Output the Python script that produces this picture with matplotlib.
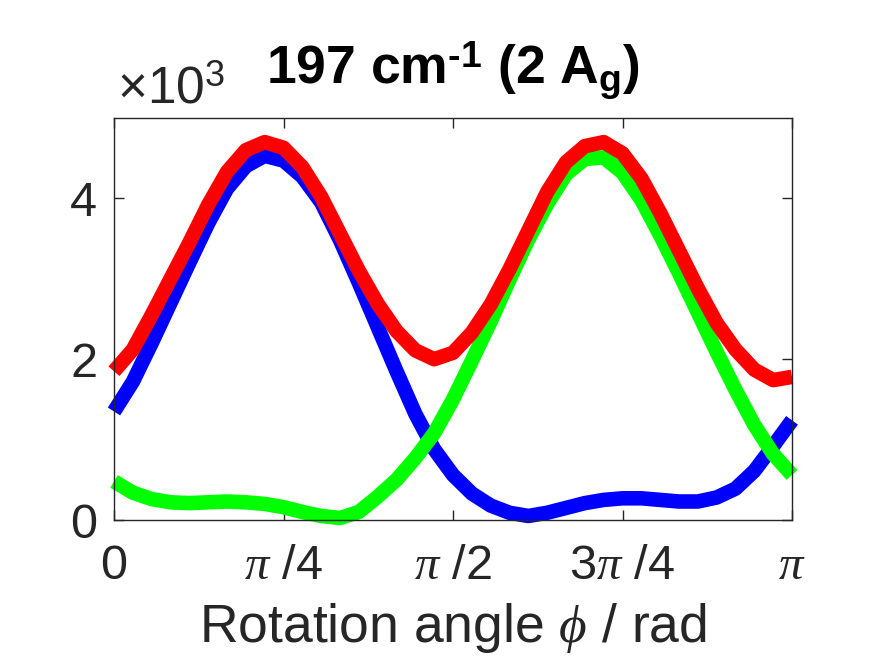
import matplotlib
matplotlib.use("Agg")
import matplotlib.pyplot as plt
import numpy as np

# Rotation angle in degrees (converted to radians for plotting)
angle_deg = [0, 5, 10, 15, 20, 25, 30, 35, 40, 45, 50, 55, 60, 65, 70, 75, 80, 85, 90,
             95, 100, 105, 110, 115, 120, 125, 130, 135, 140, 145, 150, 155, 160, 165, 170, 175, 180]

# Intensities (counts)
blue = [1350, 1720, 2200, 2700, 3200, 3690, 4120, 4400, 4530, 4470, 4270, 3950, 3480, 2950, 2400, 1850,
        1320, 880, 560, 330, 180, 90, 50, 90, 150, 210, 250, 270, 270, 250, 230, 230, 280, 390,
        610, 920, 1240]
green = [480, 340, 260, 220, 210, 220, 230, 220, 200, 160, 100, 50, 25, 100, 290, 500,
         770, 1080, 1500, 1980, 2470, 2990, 3490, 3930, 4300, 4490, 4510, 4320, 3980, 3540, 3070, 2580,
         2090, 1620, 1180, 820, 560]
red = [1850, 2120, 2550, 3000, 3450, 3920, 4330, 4600, 4700, 4630, 4390, 4020, 3560, 3100, 2690, 2350,
       2110, 2000, 2080, 2330, 2680, 3120, 3600, 4080, 4450, 4650, 4700, 4560, 4250, 3820, 3350, 2880,
       2450, 2120, 1870, 1740, 1780]

xtick_labels = ["0", r"$\pi$ /4", r"$\pi$ /2", r"3$\pi$ /4", r"$\pi$"]
ytick_labels = ["0", "2", "4"]

plt.rcParams['font.family'] = ['Liberation Sans', 'DejaVu Sans']
plt.rcParams['mathtext.fontset'] = 'custom'
plt.rcParams['mathtext.rm'] = 'Liberation Sans'
plt.rcParams['mathtext.bf'] = 'Liberation Sans:bold'
plt.rcParams['mathtext.it'] = 'Liberation Serif:italic'
plt.rcParams['mathtext.sf'] = 'Liberation Sans'

dark = '#262626'
fig = plt.figure(figsize=(8.75, 6.56), dpi=100)
ax = fig.add_axes([114/875, 1 - 520/656, (792-114)/875, (520-118)/656])

phi = np.deg2rad(angle_deg)
for vals, c in [(blue, '#0000ff'), (green, '#00ff00'), (red, '#ff0000')]:
    ax.plot(phi, vals, color=c, lw=10.5, solid_capstyle='butt', solid_joinstyle='round', clip_on=False)

ax.set_xlim(0, np.pi)
ax.set_ylim(0, 5000)
ax.set_xticks([0, np.pi/4, np.pi/2, 3*np.pi/4, np.pi])
ax.set_xticklabels(xtick_labels)
ax.set_yticks([0, 2000, 4000])
ax.set_yticklabels(ytick_labels)
ax.tick_params(direction='in', length=7, width=1, top=True, right=True, colors=dark,
               labelsize=35)
ax.tick_params(axis='x', pad=17)
ax.tick_params(axis='y', pad=12)
for s in ax.spines.values():
    s.set_color(dark)
    s.set_linewidth(1)

ax.set_xlabel(r"Rotation angle $\phi$ / rad", fontsize=38.5, color=dark, labelpad=9)
ax.set_title("197 cm$^{\\mathbf{\u2010}\\mathbf{1}}$ (2 A$_{\\mathbf{g}}$)", fontsize=38.5,
             fontweight='bold', color='black', pad=24)
fig.text(117/875, 1 - 103/656, r"×10$^{3}$", fontsize=37, color=dark, va='baseline', ha='left')

fig.savefig("out.png", dpi=100)
